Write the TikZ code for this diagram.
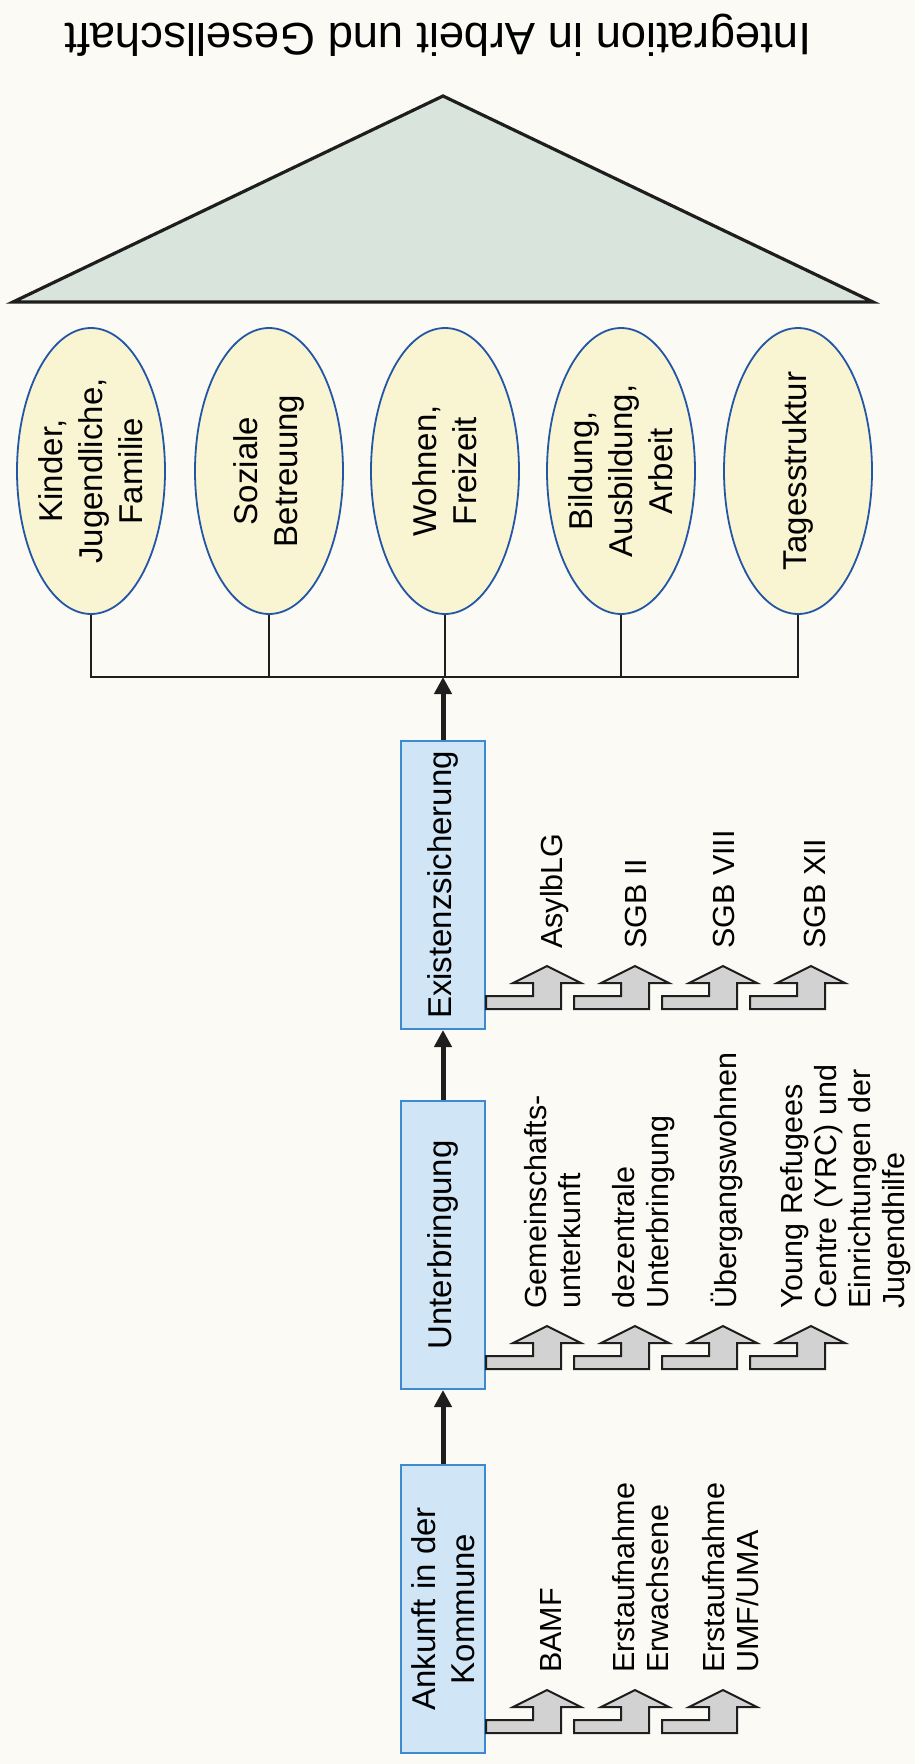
\documentclass[tikz,border=0pt]{standalone}
\usepackage{fontspec}
\setmainfont{Liberation Sans}
\usetikzlibrary{arrows.meta,shapes.geometric,calc}
\definecolor{paper}{HTML}{FBFAF4}
\definecolor{rooffill}{HTML}{D8E4DC}
\definecolor{ellfill}{HTML}{F9F4D2}
\definecolor{ellblue}{HTML}{2456A6}
\definecolor{boxfill}{HTML}{D0E6F6}
\definecolor{boxblue}{HTML}{3C8AD0}
\definecolor{arrgray}{HTML}{D2D2D2}
\definecolor{linecol}{HTML}{1E1E1E}
\newcommand\sidearrow[2]{%
  \begin{scope}[shift={(#1.south east)}]
    \filldraw[grayarrow] ({88*#2},-21) -- ({75+88*#2},-21) -- ({75+88*#2},-47)
      -- ({95+88*#2},-47) -- ({61+88*#2},-64) -- ({27+88*#2},-47)
      -- ({47+88*#2},-47) -- ({47+88*#2},-34) -- ({88*#2},-34) -- cycle;
  \end{scope}}
\begin{document}
\begin{tikzpicture}[x=1pt,y=-1pt,
  stepbox/.style={draw=boxblue, fill=boxfill, line width=2pt, minimum width=84pt, minimum height=288pt, inner sep=0pt},
  ell/.style={ellipse, draw=ellblue, fill=ellfill, line width=1.8pt, minimum width=148pt, minimum height=286pt, inner sep=0pt},
  maintext/.style={rotate=90, align=center, font=\fontsize{33}{39}\selectfont, inner sep=0pt},
  elltext/.style={rotate=90, align=center, font=\fontsize{33}{40}\selectfont, inner sep=0pt},
  side/.style={rotate=90, align=left, anchor=base west, font=\fontsize{30.5}{34}\selectfont, inner sep=0pt},
  flow/.style={line width=5pt, draw=linecol, -{Triangle[width=17pt,length=17pt]}},
  conn/.style={line width=2.8pt, draw=linecol, line join=miter},
  grayarrow/.style={fill=arrgray, draw=linecol, line width=2pt, line join=miter},
  roof/.style={fill=rooffill, draw=linecol, line width=3.2pt, line join=miter}]
\fill[paper] (0,0) rectangle (915,1764);
\useasboundingbox (0,0) rectangle (915,1764);

% title and roof
\node[rotate=180, font=\fontsize{45.5}{50}\selectfont, inner sep=0pt] (title) at (438,35) {Integration in Arbeit und Gesellschaft};
\draw[roof] (13,302) -- (443,96) -- (873,302) -- cycle;

% pillars
\node[ell] (e1) at (91,471) {};
\node[ell] (e2) at (269,471) {};
\node[ell] (e3) at (445,471) {};
\node[ell] (e4) at (621,471) {};
\node[ell] (e5) at (798,471) {};
\node[elltext] (t1) at (e1) {Kinder,\\Jugendliche,\\Familie};
\node[elltext] (t2) at (e2) {Soziale\\Betreuung};
\node[elltext] (t3) at (e3) {Wohnen,\\Freizeit};
\node[elltext] (t4) at (e4) {Bildung,\\Ausbildung,\\Arbeit};
\node[elltext] (t5) at (e5) {Tagesstruktur};

\coordinate (bar) at (0,677);
\draw[conn] (e1.south) -- (e1.south |- bar) -- (e5.south |- bar) -- (e5.south);
\draw[conn] (e2.south) -- (e2.south |- bar);
\draw[conn] (e3.south) -- (e3.south |- bar);
\draw[conn] (e4.south) -- (e4.south |- bar);

% steps
\node[stepbox] (b3) at (443,885) {};
\node[stepbox] (b2) at (443,1245) {};
\node[stepbox] (b1) at (443,1609) {};
\node[maintext] (bt3) at (b3) {Existenzsicherung};
\node[maintext] (bt2) at (b2) {Unterbringung};
\node[maintext] (bt1) at (b1) {Ankunft in der\\Kommune};

\draw[flow] (b1.north) -- (b2.south);
\draw[flow] (b2.north) -- (b3.south);
\coordinate (barjoin) at (b3.north |- bar);
\draw[flow] (b3.north) -- (barjoin);

% side arrows and labels
\sidearrow{b1}{0}\sidearrow{b1}{1}\sidearrow{b1}{2}
\sidearrow{b2}{0}\sidearrow{b2}{1}\sidearrow{b2}{2}\sidearrow{b2}{3}
\sidearrow{b3}{0}\sidearrow{b3}{1}\sidearrow{b3}{2}\sidearrow{b3}{3}

% anchor = baseline of the last line
\node[side] (l11) at ($(b1.south east)+(75,-81)$) {BAMF};
\node[side] (l12) at ($(b1.south east)+(182,-81)$) {Erstaufnahme\\Erwachsene};
\node[side] (l13) at ($(b1.south east)+(272,-81)$) {Erstaufnahme\\UMF/UMA};

\node[side] (l21) at ($(b2.south east)+(94,-81)$) {Gemeinschafts-\\unterkunft};
\node[side] (l22) at ($(b2.south east)+(182,-81)$) {dezentrale\\Unterbringung};
\node[side] (l23) at ($(b2.south east)+(250,-81)$) {Übergangswohnen};
\node[side] (l24) at ($(b2.south east)+(418,-81)$) {Young Refugees\\Centre (YRC) und\\Einrichtungen der\\Jugendhilfe};

\node[side] (l31) at ($(b3.south east)+(76,-81)$) {AsylbLG};
\node[side] (l32) at ($(b3.south east)+(160,-81)$) {SGB II};
\node[side] (l33) at ($(b3.south east)+(248,-81)$) {SGB VIII};
\node[side] (l34) at ($(b3.south east)+(339,-81)$) {SGB XII};
\end{tikzpicture}
\end{document}
